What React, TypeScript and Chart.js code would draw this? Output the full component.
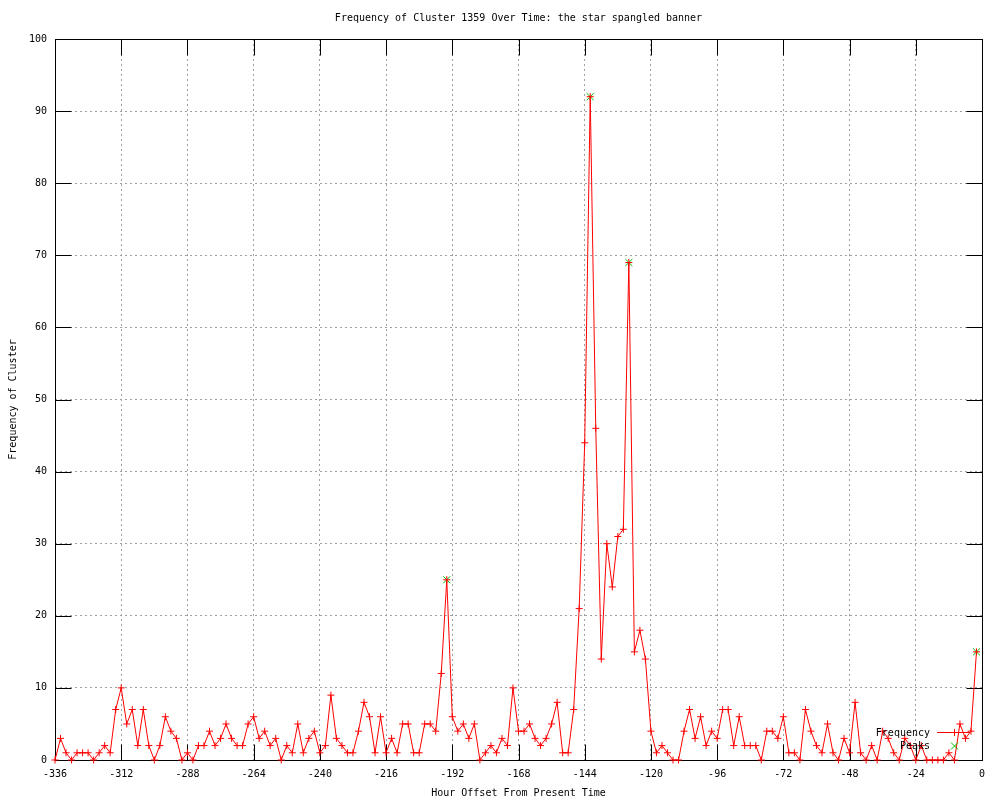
import { useEffect, useRef } from "react";
import { Chart, registerables } from "chart.js";

Chart.register(...registerables);

const TITLE = "Frequency of Cluster 1359 Over Time: the star spangled banner";
const X_TITLE = "Hour Offset From Present Time";
const Y_TITLE = "Frequency of Cluster";
const SERIES_NAMES = ["Frequency", "Peaks"];

const hours = [
  -336, -334, -332, -330, -328, -326, -324, -322, -320, -318,
  -316, -314, -312, -310, -308, -306, -304, -302, -300, -298,
  -296, -294, -292, -290, -288, -286, -284, -282, -280, -278,
  -276, -274, -272, -270, -268, -266, -264, -262, -260, -258,
  -256, -254, -252, -250, -248, -246, -244, -242, -240, -238,
  -236, -234, -232, -230, -228, -226, -224, -222, -220, -218,
  -216, -214, -212, -210, -208, -206, -204, -202, -200, -198,
  -196, -194, -192, -190, -188, -186, -184, -182, -180, -178,
  -176, -174, -172, -170, -168, -166, -164, -162, -160, -158,
  -156, -154, -152, -150, -148, -146, -144, -142, -140, -138,
  -136, -134, -132, -130, -128, -126, -124, -122, -120, -118,
  -116, -114, -112, -110, -108, -106, -104, -102, -100, -98,
  -96, -94, -92, -90, -88, -86, -84, -82, -80, -78,
  -76, -74, -72, -70, -68, -66, -64, -62, -60, -58,
  -56, -54, -52, -50, -48, -46, -44, -42, -40, -38,
  -36, -34, -32, -30, -28, -26, -24, -22, -20, -18,
  -16, -14, -12, -10, -8, -6, -4, -2,
];

const frequency = [
  0, 3, 1, 0, 1, 1, 1, 0, 1, 2,
  1, 7, 10, 5, 7, 2, 7, 2, 0, 2,
  6, 4, 3, 0, 1, 0, 2, 2, 4, 2,
  3, 5, 3, 2, 2, 5, 6, 3, 4, 2,
  3, 0, 2, 1, 5, 1, 3, 4, 1, 2,
  9, 3, 2, 1, 1, 4, 8, 6, 1, 6,
  1, 3, 1, 5, 5, 1, 1, 5, 5, 4,
  12, 25, 6, 4, 5, 3, 5, 0, 1, 2,
  1, 3, 2, 10, 4, 4, 5, 3, 2, 3,
  5, 8, 1, 1, 7, 21, 44, 92, 46, 14,
  30, 24, 31, 32, 69, 15, 18, 14, 4, 1,
  2, 1, 0, 0, 4, 7, 3, 6, 2, 4,
  3, 7, 7, 2, 6, 2, 2, 2, 0, 4,
  4, 3, 6, 1, 1, 0, 7, 4, 2, 1,
  5, 1, 0, 3, 1, 8, 1, 0, 2, 0,
  4, 3, 1, 0, 3, 2, 0, 2, 0, 0,
  0, 0, 1, 0, 5, 3, 4, 15,
];

const peakHours = [-194, -142, -128, -2];
const peakValues = [25, 92, 69, 15];

const xTicks = [-336, -312, -288, -264, -240, -216, -192, -168, -144, -120, -96, -72, -48, -24, 0];
const yTicks = [0, 10, 20, 30, 40, 50, 60, 70, 80, 90, 100];

const FONT = "'DejaVu Sans Mono', 'Liberation Mono', monospace";
const RED = "#ff0000";
const GREEN = "#00c000";

const gnuplotDecor = {
  id: "gnuplotDecor",
  beforeDatasetsDraw(chart: any) {
    const { ctx, chartArea: a, scales } = chart;
    const L = Math.round(a.left) + 0.5;
    const R = Math.round(a.right) + 0.5;
    const T = Math.round(a.top) + 0.5;
    const B = Math.round(a.bottom) + 0.5;
    const tl = 16;
    ctx.save();
    ctx.strokeStyle = "#000";
    ctx.lineWidth = 1;
    ctx.setLineDash([]);
    ctx.beginPath();
    for (const v of xTicks) {
      const x = Math.round(scales.x.getPixelForValue(v)) + 0.5;
      ctx.moveTo(x, B);
      ctx.lineTo(x, B - tl);
      ctx.moveTo(x, T);
      ctx.lineTo(x, T + tl);
    }
    for (const v of yTicks) {
      const y = Math.round(scales.y.getPixelForValue(v)) + 0.5;
      ctx.moveTo(L, y);
      ctx.lineTo(L + tl, y);
      ctx.moveTo(R, y);
      ctx.lineTo(R - tl, y);
    }
    ctx.stroke();
    ctx.strokeRect(L, T, R - L, B - T);
    ctx.restore();
  },
  afterDraw(chart: any) {
    const { ctx, chartArea: a } = chart;
    const cx = (a.left + a.right) / 2;
    ctx.save();
    ctx.setLineDash([]);
    ctx.fillStyle = "#000";
    ctx.font = `10px ${FONT}`;
    ctx.textBaseline = "middle";
    ctx.textAlign = "center";
    ctx.fillText(TITLE, cx, 18);
    ctx.fillText(X_TITLE, cx, 793);
    ctx.save();
    ctx.translate(13, (a.top + a.bottom) / 2);
    ctx.rotate(-Math.PI / 2);
    ctx.fillText(Y_TITLE, 0, 0);
    ctx.restore();

    // legend
    const textX = a.right - 52;
    const row1 = a.bottom - 28;
    const row2 = a.bottom - 14;
    ctx.textAlign = "right";
    ctx.fillText(SERIES_NAMES[0], textX, row1 + 1);
    ctx.fillText(SERIES_NAMES[1], textX, row2);
    const sx0 = a.right - 45;
    const sx1 = a.right - 12;
    const mx = Math.round((sx0 + sx1) / 2) + 0.5;
    ctx.strokeStyle = RED;
    ctx.lineWidth = 1;
    ctx.beginPath();
    ctx.moveTo(sx0, row1 + 0.5);
    ctx.lineTo(sx1, row1 + 0.5);
    ctx.moveTo(mx - 3.5, row1 + 0.5);
    ctx.lineTo(mx + 3.5, row1 + 0.5);
    ctx.moveTo(mx, row1 - 3);
    ctx.lineTo(mx, row1 + 4);
    ctx.stroke();
    ctx.strokeStyle = GREEN;
    ctx.beginPath();
    ctx.moveTo(mx - 3.5, row2 - 3.5);
    ctx.lineTo(mx + 3.5, row2 + 3.5);
    ctx.moveTo(mx - 3.5, row2 + 3.5);
    ctx.lineTo(mx + 3.5, row2 - 3.5);
    ctx.stroke();
    ctx.restore();
  },
};

export default function App() {
  const ref = useRef<HTMLCanvasElement | null>(null);

  useEffect(() => {
    document.body.style.margin = "0";
    const canvas = ref.current;
    if (!canvas) return;
    const chart = new Chart(canvas, {
      type: "line",
      data: {
        datasets: [
          {
            label: SERIES_NAMES[0],
            data: hours.map((h, i) => ({ x: h, y: frequency[i] })),
            borderColor: RED,
            backgroundColor: RED,
            borderWidth: 1,
            pointStyle: "cross",
            pointRadius: 3.5,
            pointBorderColor: RED,
            pointBorderWidth: 1,
            tension: 0,
            fill: false,
            clip: false as any,
          },
          {
            label: SERIES_NAMES[1],
            data: peakHours.map((h, i) => ({ x: h, y: peakValues[i] })),
            showLine: false,
            borderColor: GREEN,
            backgroundColor: GREEN,
            pointStyle: "crossRot",
            pointRadius: 5,
            pointBorderColor: GREEN,
            pointBorderWidth: 1,
            clip: false as any,
          },
        ],
      },
      options: {
        responsive: false,
        animation: false,
        devicePixelRatio: 1,
        events: [],
        layout: { padding: { top: 39, right: 18, left: 0, bottom: 0 } },
        plugins: {
          legend: { display: false },
          title: { display: false },
          tooltip: { enabled: false },
        },
        scales: {
          x: {
            type: "linear",
            min: -336,
            max: 0,
            afterFit: (s: any) => {
              s.height = 40;
            },
            afterBuildTicks: (s: any) => {
              s.ticks = xTicks.map((v) => ({ value: v }));
            },
            ticks: {
              stepSize: 24,
              padding: 8,
              color: "#000",
              font: { family: FONT, size: 10 },
              maxRotation: 0,
              autoSkip: false,
              callback: (v: any) => String(v),
            },
            grid: {
              color: "#a0a0a0",
              lineWidth: 1,
              drawTicks: false,
            },
            border: { display: false, dash: [2, 3] },
          },
          y: {
            type: "linear",
            min: 0,
            max: 100,
            afterFit: (s: any) => {
              s.width = 55;
            },
            afterBuildTicks: (s: any) => {
              s.ticks = yTicks.map((v) => ({ value: v }));
            },
            ticks: {
              stepSize: 10,
              padding: 8,
              color: "#000",
              font: { family: FONT, size: 10 },
              autoSkip: false,
              callback: (v: any) => String(v),
            },
            grid: {
              color: "#a0a0a0",
              lineWidth: 1,
              drawTicks: false,
            },
            border: { display: false, dash: [2, 3] },
          },
        },
      },
      plugins: [gnuplotDecor],
    });
    return () => chart.destroy();
  }, []);

  return (
    <div style={{ width: 1000, height: 800, background: "#fff" }}>
      <canvas ref={ref} width={1000} height={800} style={{ display: "block" }} />
    </div>
  );
}
